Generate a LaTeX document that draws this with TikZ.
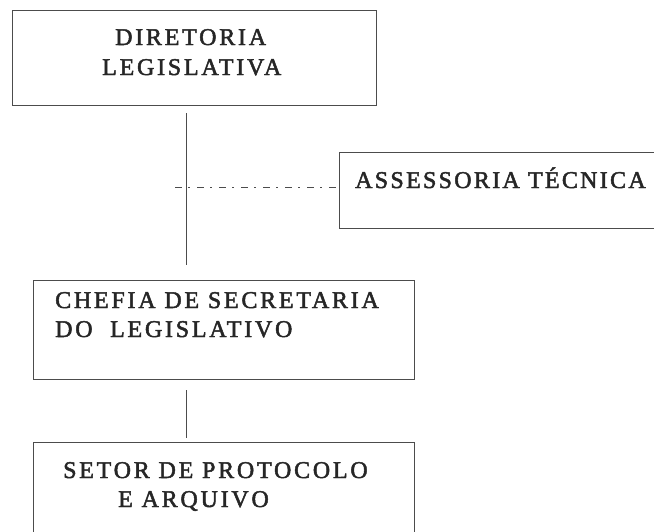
\documentclass[tikz,border=0pt]{standalone}
\usepackage{fontspec}
\setmainfont{Liberation Serif}[LetterSpace=11.5, FakeBold=2]
\begin{document}
\begin{tikzpicture}[x=1pt,y=-1pt,
  box/.style={draw=black!70, line width=0.8pt, rectangle, inner sep=0pt},
  lbl/.style={font=\fontsize{24}{29}\selectfont, text=black!85, inner sep=0pt, anchor=base west},
  conn/.style={draw=black!70, line width=0.8pt},
  dashdot/.style={conn, dash pattern=on 7pt off 6pt on 2pt off 7pt}]
\useasboundingbox (0,0) rectangle (654,531);
\clip (0,0) rectangle (654,531);
\fill[white] (0,0) rectangle (654,531);
\node[box, minimum width=364pt, minimum height=95pt] (dir) at (194,57.5) {};
\node[box, minimum width=322pt, minimum height=76pt] (ass) at (500,190.5) {};
\node[box, minimum width=381pt, minimum height=99pt] (che) at (223.5,329.5) {};
\node[box, minimum width=381pt, minimum height=103pt] (set) at (223.5,493.5) {};
\node[lbl] (tdir1) at (115,45) {DIRETORIA};
\node[lbl] (tdir2) at (102,75) {LEGISLATIVA};
\node[lbl] (tass) at (355,188) {\addfontfeatures{LetterSpace=9.5}ASSESSORIA TÉCNICA};
\node[lbl] (tche1) at (55,308) {CHEFIA DE SECRETARIA};
\node[lbl] (tche2) at (55,337) {DO\ \ LEGISLATIVO};
\node[lbl] (tset1) at (63,478) {SETOR DE PROTOCOLO};
\node[lbl] (tset2) at (118,507) {E ARQUIVO};
\coordinate (a1) at (186,113);
\coordinate (a2) at (186,265);
\coordinate (d1) at (175,187);
\coordinate (b1) at (186,390);
\coordinate (b2) at (186,438);
\draw[conn] (a1) -- (a2);
\draw[dashdot] (d1) -- (d1 -| ass.west);
\draw[conn] (b1) -- (b2);
\end{tikzpicture}
\end{document}
